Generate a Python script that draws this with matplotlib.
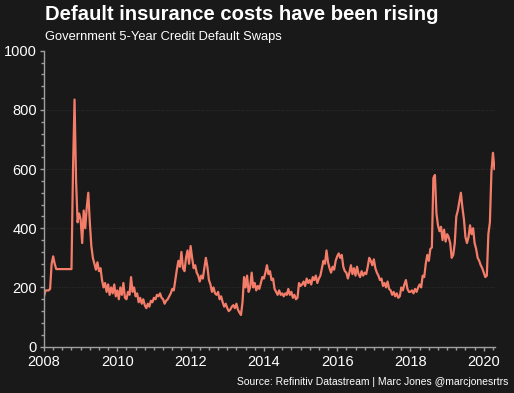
import numpy as np
import matplotlib
matplotlib.use("Agg")
import matplotlib.pyplot as plt
from matplotlib.ticker import MultipleLocator

# CDS levels at half-month steps (24 per year)
cds_2008 = [170, 190, 190, 190, 195, 280, 305, 280, 262, 262, 262, 262,
            262, 262, 262, 262, 262, 262, 262, 600, 835, 560, 420, 450]
cds_2009 = [430, 350, 460, 400, 470, 520, 420, 340, 300, 280, 260, 285,
            255, 265, 225, 200, 215, 185, 210, 175, 200, 180, 210, 170]
cds_2010 = [190, 160, 200, 175, 215, 165, 160, 185, 175, 235, 185, 200,
            170, 180, 150, 165, 145, 160, 140, 130, 145, 135, 155, 150]
cds_2011 = [165, 160, 175, 170, 180, 165, 160, 145, 155, 160, 170, 180,
            195, 190, 225, 260, 290, 270, 320, 265, 255, 300, 325, 280]
cds_2012 = [340, 300, 265, 275, 250, 240, 220, 240, 230, 265, 300, 270,
            225, 210, 185, 200, 180, 175, 185, 160, 170, 150, 135, 145]
cds_2013 = [130, 120, 125, 135, 140, 130, 145, 125, 115, 107, 150, 235,
            200, 240, 185, 200, 250, 200, 215, 190, 205, 195, 215, 235]
cds_2014 = [230, 250, 275, 245, 255, 225, 230, 195, 185, 175, 190, 175,
            180, 170, 180, 175, 195, 175, 185, 165, 175, 160, 165, 215]
cds_2015 = [205, 210, 220, 205, 230, 215, 225, 210, 235, 225, 240, 215,
            230, 240, 265, 290, 280, 325, 285, 265, 250, 270, 260, 290]
cds_2016 = [305, 315, 300, 310, 270, 255, 250, 230, 250, 275, 245, 265,
            240, 270, 245, 235, 255, 240, 250, 245, 270, 300, 290, 275]
cds_2017 = [295, 265, 250, 240, 225, 230, 205, 215, 200, 220, 195, 190,
            175, 185, 170, 180, 165, 170, 200, 190, 210, 225, 195, 185]
cds_2018 = [185, 190, 180, 195, 185, 200, 210, 200, 240, 235, 280, 310,
            290, 330, 335, 570, 580, 450, 410, 390, 405, 360, 395, 355]
cds_2019 = [380, 370, 350, 300, 310, 350, 440, 460, 490, 520, 470, 430,
            370, 350, 370, 410, 380, 400, 350, 330, 300, 290, 275, 265]
cds_2020 = [250, 235, 240, 380, 420, 590, 655, 600]

values = (cds_2008 + cds_2009 + cds_2010 + cds_2011 + cds_2012 + cds_2013 +
          cds_2014 + cds_2015 + cds_2016 + cds_2017 + cds_2018 + cds_2019 +
          cds_2020)
dates = 2008 + np.arange(len(values)) / 24.0

year_ticks = [2008, 2010, 2012, 2014, 2016, 2018, 2020]
value_ticks = [0, 200, 400, 600, 800, 1000]

bg = "#191919"
line_col = "#f47d69"
axis_col = "#a0a0a0"

plt.rcParams['font.family'] = ['Liberation Sans', 'DejaVu Sans']

fig = plt.figure(figsize=(5.14, 3.93), dpi=100, facecolor=bg)
ax = fig.add_axes([0.0856, 0.118, 0.877, 0.753])
ax.set_facecolor(bg)

ax.plot(dates, values, color=line_col, linewidth=1.6)

ax.set_xlim(2008, 2020.3)
ax.set_ylim(0, 1000)
ax.set_xticks(year_ticks)
ax.set_xticklabels([str(y) for y in year_ticks])
ax.set_yticks(value_ticks)
ax.xaxis.set_minor_locator(MultipleLocator(0.25))
ax.yaxis.set_minor_locator(MultipleLocator(40))

ax.tick_params(axis='both', which='major', colors=axis_col, labelcolor='white',
               labelsize=10.5, length=3, width=1)
ax.tick_params(axis='x', which='major', pad=3)
ax.tick_params(axis='y', which='major', pad=2)
ax.tick_params(axis='both', which='minor', colors=axis_col, length=2, width=1)

for side in ['top', 'right']:
    ax.spines[side].set_visible(False)
for side in ['left', 'bottom']:
    ax.spines[side].set_color(axis_col)
    ax.spines[side].set_linewidth(1)

# faint dotted grid
for v in value_ticks[1:-1]:
    ax.axhline(v, color="#363636", linewidth=0.6, linestyle=(0, (1, 2)), zorder=0)

fig.text(0.088, 0.962, "Default insurance costs have been rising", color='white',
         fontsize=14.6, fontweight='bold', ha='left', va='center')
fig.text(0.088, 0.905, "Government 5-Year Credit Default Swaps", color='white',
         fontsize=9.3, ha='left', va='center')
fig.text(0.99, 0.028, "Source: Refinitiv Datastream | Marc Jones @marcjonesrtrs",
         color='white', fontsize=7.5, ha='right', va='center')

fig.savefig("out.png", dpi=100, facecolor=bg)
